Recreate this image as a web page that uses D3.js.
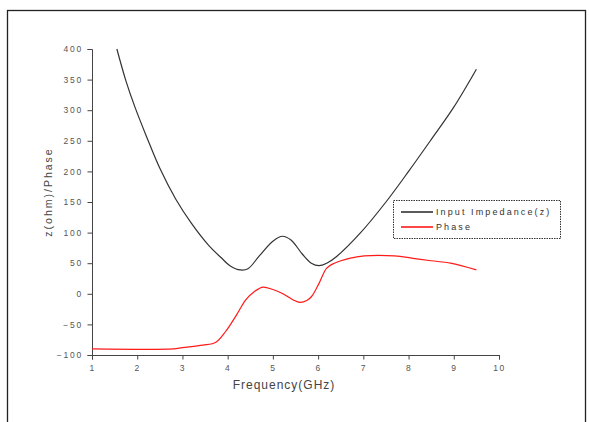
<!DOCTYPE html>
<html>
<head>
<meta charset="utf-8">
<script src="https://cdn.jsdelivr.net/npm/d3@7"></script>
<style>
  body { margin: 0; background: #fff; }
  text { font-family: "Liberation Sans", Arial, sans-serif; }
</style>
</head>
<body>
<script>
// impedance (black) and phase (red)
var impFreq = [1.55, 1.75, 1.95, 2.2, 2.5, 2.85, 3.2, 3.57, 3.87, 4.05, 4.28, 4.45, 4.7, 5.0, 5.21, 5.4, 5.65, 5.85, 6.02, 6.19, 6.41, 6.93, 7.5, 8.0, 8.5, 9.0, 9.5];
var impVal = [400, 348, 305, 258, 205, 155, 115, 80, 58, 46, 39, 41, 62, 86, 94, 88, 65, 50, 46, 50, 61, 99, 150, 200, 252, 305, 367];
var phaseFreq = [1, 2.8, 3.0, 3.45, 3.74, 3.95, 4.2, 4.4, 4.6, 4.78, 5.0, 5.2, 5.45, 5.6, 5.75, 5.86, 6.02, 6.19, 6.36, 6.69, 7.02, 7.69, 8.1, 8.5, 8.93, 9.5];
var phaseVal = [-90, -90, -88, -84, -79, -62, -34, -10, 4, 11, 7, 1, -10, -14, -11, -4, 17, 42, 50, 58, 62, 62, 58, 54, 50, 39];
var xTicks = [1, 2, 3, 4, 5, 6, 7, 8, 9, 10];
var yTicks = [-100, -50, 0, 50, 100, 150, 200, 250, 300, 350, 400];
var seriesNames = ["Input Impedance(z)", "Phase"];
var seriesColors = ["#333", "#ff1a1a"];

var w = 589, h = 422;
var svg = d3.select("body").append("svg")
    .attr("width", w)
    .attr("height", h);

// outer frame
svg.append("rect")
    .attr("x", 7.5).attr("y", 10.5)
    .attr("width", 578).attr("height", 430)
    .attr("fill", "none").attr("stroke", "#222").attr("stroke-width", 1.3);

var x = d3.scaleLinear().domain([1, 10]).range([92, 499]);
var y = d3.scaleLinear().domain([-100, 400]).range([355, 49]);

// minor ticks first, then labelled ones
var gx = svg.append("g").attr("transform", "translate(0,355)");
gx.call(d3.axisBottom(x).tickValues(d3.range(1.5, 10, 1)).tickSize(2.5).tickFormat(""));
gx.call(d3.axisBottom(x).tickValues(xTicks).tickSize(4.5).tickFormat(d3.format("d")));
gx.selectAll("path, line").attr("stroke", "#444");
gx.selectAll("text").attr("font-size", 8.5).attr("fill", "#555")
    .attr("letter-spacing", 1.5).attr("dy", "1.05em");

var gy = svg.append("g").attr("transform", "translate(92,0)");
gy.call(d3.axisLeft(y).tickValues(d3.range(-75, 400, 50)).tickSize(2.5).tickFormat(""));
gy.call(d3.axisLeft(y).tickValues(yTicks).tickSize(4.5).tickFormat(d3.format("d")));
gy.selectAll("path, line").attr("stroke", "#444");
gy.selectAll("text").attr("font-size", 8.5).attr("fill", "#555")
    .attr("letter-spacing", 1.8).attr("x", -9);

// axis titles
svg.append("text")
    .attr("x", 284).attr("y", 389)
    .attr("text-anchor", "middle")
    .attr("font-size", 12).attr("fill", "#444")
    .attr("letter-spacing", 1)
    .text("Frequency(GHz)");

svg.append("text")
    .attr("transform", "translate(52,192) rotate(-90)")
    .attr("text-anchor", "middle")
    .attr("font-size", 10.5).attr("fill", "#444")
    .attr("letter-spacing", 2)
    .text("z(ohm)/Phase");

var line = d3.line()
    .x(function (d) { return x(d[0]); })
    .y(function (d) { return y(d[1]); })
    .curve(d3.curveCatmullRom.alpha(0.5));

var series = [d3.zip(impFreq, impVal), d3.zip(phaseFreq, phaseVal)];
svg.append("g").selectAll("path")
    .data(series)
    .enter()
    .append("path")
    .attr("d", line)
    .attr("fill", "none")
    .attr("stroke", function (d, i) { return seriesColors[i]; })
    .attr("stroke-width", 1.2);

// legend
var lg = svg.append("g").attr("transform", "translate(393,200)");
lg.append("rect")
    .attr("x", 0.5).attr("y", 0.5)
    .attr("width", 167).attr("height", 38)
    .attr("fill", "#fff").attr("stroke", "#333")
    .attr("stroke-dasharray", "1.5,1");
var items = lg.selectAll("g.item")
    .data(seriesNames)
    .enter()
    .append("g")
    .attr("transform", function (d, i) { return "translate(0," + (12 + i * 15) + ")"; });
items.append("line")
    .attr("x1", 8).attr("x2", 40)
    .attr("stroke", function (d, i) { return seriesColors[i]; })
    .attr("stroke-width", 1.6);
items.append("text")
    .attr("x", 43).attr("dy", "0.35em")
    .attr("font-size", 9).attr("fill", "#333")
    .attr("letter-spacing", 2.1)
    .text(function (d) { return d; });
</script>
</body>
</html>
